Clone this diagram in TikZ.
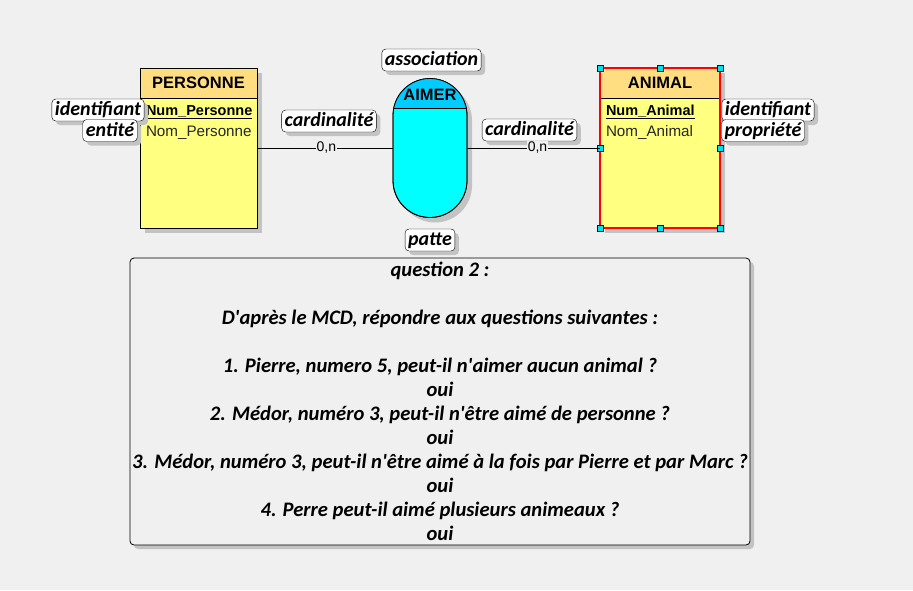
\documentclass[tikz,border=0pt]{standalone}
\usepackage{fontspec}
\setmainfont{Carlito}
\newfontfamily\djv{DejaVu Sans}
\newfontfamily\lib{Liberation Sans}
\usetikzlibrary{shadows,calc}
\definecolor{bg}{HTML}{F0F0F0}
\definecolor{shgray}{HTML}{C3C3C3}
\definecolor{enthead}{HTML}{FFDD80}
\definecolor{entbody}{HTML}{FFFF80}
\definecolor{asshead}{HTML}{00CCFF}
\definecolor{assbody}{HTML}{00FFFF}
\definecolor{handlecol}{HTML}{00E0F0}
\definecolor{handleedge}{HTML}{101040}
\begin{document}
\begin{tikzpicture}[x=1pt,y=-1pt,
  every node/.style={inner sep=0pt, outer sep=0pt},
  bigshadow/.style={drop shadow={shadow xshift=5pt,shadow yshift=-5pt,fill=shgray,opacity=1}},
  smallshadow/.style={drop shadow={shadow xshift=4pt,shadow yshift=-4pt,fill=shgray,opacity=1}},
  entbox/.style={draw=black, line width=0.8pt, fill=entbody, minimum height=160pt, bigshadow},
  enttitle/.style={font=\lib\bfseries\fontsize{16.5}{16.5}\selectfont},
  attrid/.style={font=\lib\bfseries\fontsize{14.5}{14.5}\selectfont, anchor=base west},
  attr/.style={font=\lib\fontsize{15.2}{15.2}\selectfont, text=black!85, anchor=base west},
  lbl/.style={draw=black, fill=white, rounded corners=4pt, font=\fontsize{20}{20}\selectfont\bfseries\itshape,
    inner xsep=3pt, inner ysep=2.5pt, text height=14pt, text depth=3pt, smallshadow},
  card/.style={fill=bg, inner xsep=1pt, inner ysep=1pt, font=\lib\fontsize{14}{14}\selectfont},
  qline/.style={font=\fontsize{20.6}{24}\selectfont\bfseries\itshape, anchor=base},
  handle/.style={draw=handleedge, fill=handlecol, line width=0.8pt, minimum size=6pt, inner sep=0pt}
]
\useasboundingbox[fill=bg] (0,0) rectangle (913,590);

% PERSONNE entity
\node[entbox, minimum width=117pt] (pers) at (198.5,148) {};
\fill[enthead] (pers.north west) rectangle ($(pers.north east)+(0,30)$);
\draw[line width=0.8pt] ($(pers.north west)+(0,30)$) -- ($(pers.north east)+(0,30)$);
\draw[line width=0.8pt] (pers.north west) rectangle (pers.south east);
\node[enttitle] (persname) at ($(pers.north)+(0,15)$) {PERSONNE};
\node[attrid] (persid) at (146,115) {Num\_Personne};
\draw[line width=0.8pt] ([yshift=-3.5pt]persid.base west) -- ([yshift=-3.5pt]persid.base east);
\node[attr] (persnom) at (146,136) {Nom\_Personne};

% ANIMAL entity
\node[entbox, minimum width=120pt] (anim) at (660,148) {};
\fill[enthead] (anim.north west) rectangle ($(anim.north east)+(0,30)$);
\draw[line width=0.8pt] ($(anim.north west)+(0,30)$) -- ($(anim.north east)+(0,30)$);
\draw[red, line width=2.6pt] (anim.north west) rectangle (anim.south east);
\node[enttitle] (animname) at ($(anim.north)+(0,15)$) {ANIMAL};
\node[attrid] (animid) at (606,115) {Num\_Animal};
\draw[line width=0.8pt] ([yshift=-3.5pt]animid.base west) -- ([yshift=-3.5pt]animid.base east);
\node[attr] (animnom) at (606,136) {Nom\_Animal};
\foreach \a [count=\i] in {north west,north,north east,east,south east,south,south west,west}
  \node[handle] (h\i) at (anim.\a) {};

% AIMER association
\node[draw=black, line width=0.8pt, fill=assbody, rounded corners=37pt, minimum width=74pt, minimum height=139pt, bigshadow] (aimer) at (430,148) {};
\begin{scope}
  \clip (aimer.north west) rectangle ($(aimer.north east)+(0,30)$);
  \fill[asshead, rounded corners=37pt] (aimer.south west) rectangle (aimer.north east);
  \draw[line width=0.8pt] ($(aimer.north west)+(0,30)$) -- ($(aimer.north east)+(0,30)$);
\end{scope}
\draw[line width=0.8pt, rounded corners=37pt] (aimer.south west) rectangle (aimer.north east);
\node[enttitle] (aimername) at ($(aimer.north)+(0,16)$) {AIMER};

% labels
\node[lbl] (lassoc) at (431.5,60) {association};
\node[lbl] (lcard1) at (329,121) {cardinalité};
\node[lbl] (lcard2) at (529.5,130) {cardinalité};
\node[lbl] (lpatte) at (430,240) {patte};
\node[lbl] (lid1) at (98,110) {identifiant};
\node[lbl] (lent) at (110,130.5) {entité};
\node[lbl] (lid2) at (768,110) {identifiant};
\node[lbl] (lprop) at (763,130.5) {propriété};

% connectors
\draw[line width=0.6pt] (pers) -- node[card, pos=0.51] (c1) {0,n} (aimer);
\draw[line width=0.6pt] (aimer) -- node[card, pos=0.53] (c2) {0,n} (anim);

% question box
\node[draw=black, line width=0.8pt, fill=bg, rounded corners=4pt, minimum width=620pt, minimum height=287pt, smallshadow] (qbox) at (440,401.5) {};
\node[qline] (q1) at (440,276) {question 2 :};
\node[qline] (q2) at (440,324) {D\textquotesingle après le MCD, répondre aux questions suivantes :};
\node[qline] (q3) at (440,372) {1. Pierre, numero 5, peut-il n\textquotesingle aimer aucun animal ?};
\node[qline] (q4) at (440,396) {oui};
\node[qline] (q5) at (440,420) {2. Médor, numéro 3, peut-il n\textquotesingle être aimé de personne ?};
\node[qline] (q6) at (440,444) {oui};
\node[qline] (q7) at (440,468) {3. Médor, numéro 3, peut-il n\textquotesingle être aimé à la fois par Pierre et par Marc ?};
\node[qline] (q8) at (440,492) {oui};
\node[qline] (q9) at (440,516) {4. Perre peut-il aimé plusieurs animeaux ?};
\node[qline] (q10) at (440,540) {oui};
\end{tikzpicture}
\end{document}
